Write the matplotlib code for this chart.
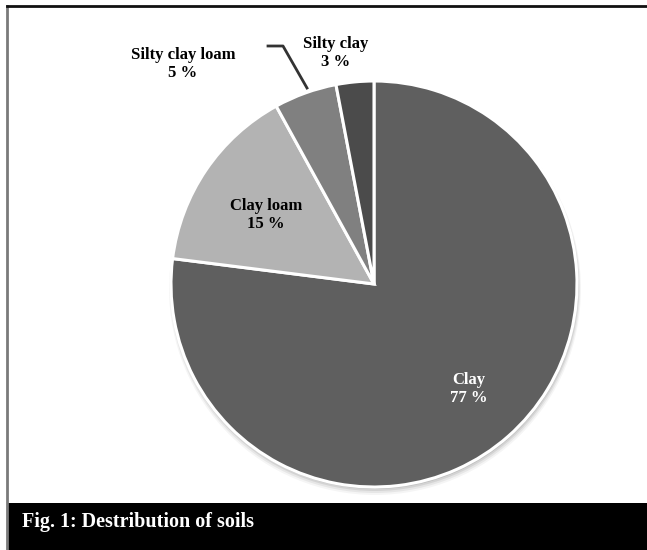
import matplotlib
matplotlib.use("Agg")
import matplotlib.pyplot as plt
from matplotlib.patches import Rectangle, Circle
from matplotlib.lines import Line2D

# Soil classes and their shares (%)
soils = ["Clay", "Clay loam", "Silty clay loam", "Silty clay"]
shares = [77, 15, 5, 3]
colors = ["#5f5f5f", "#b3b3b3", "#808080", "#4b4b4b"]
caption = "Fig. 1: Destribution of soils"

W, H = 647, 550
fig = plt.figure(figsize=(W / 100, H / 100), dpi=100)
fig.patch.set_facecolor("white")

ax = fig.add_axes([0, 0, 1, 1])
cx, cy, r = 374, 266, 203

# soft shadow under the pie
for k, a in enumerate([0.04, 0.06, 0.08, 0.10]):
    ax.add_patch(Circle((cx + 1, cy - 5 + k), r + 3 - k, facecolor="black",
                        alpha=a, edgecolor="none", zorder=0))

wedges, _ = ax.pie(shares, colors=colors, startangle=90, counterclock=False,
                   center=(cx, cy), radius=r,
                   wedgeprops=dict(edgecolor="white", linewidth=2.2))
for w in wedges:
    w.set_zorder(2)

ax.set_xlim(0, W)
ax.set_ylim(0, H)
ax.set_aspect("auto")
ax.axis("off")

font = dict(family="Liberation Serif", fontweight="bold", fontsize=12,
            ha="center", va="center")
labels = {
    "Clay": (469, 389, "white"),
    "Clay loam": (266, 215, "black"),
    "Silty clay loam": (183, 64, "black"),
    "Silty clay": (336, 53, "black"),
}
for name, val in zip(soils, shares):
    x, y, c = labels[name]
    ax.text(x, H - y, f"{name}\n{val} %", color=c, linespacing=1.15,
            zorder=5, **font)

# leader line for the smallest slice
ax.add_line(Line2D([307, 283, 268], [H - 88, H - 46, H - 46],
                   color="#333333", linewidth=2, zorder=4))

# frame and caption bar
fig.add_artist(Line2D([7 / W, 7 / W], [1 - 6 / H, 0], transform=fig.transFigure,
                      color="#7a7a7a", linewidth=2))
fig.add_artist(Line2D([7 / W, 1], [1 - 6 / H, 1 - 6 / H], transform=fig.transFigure,
                      color="#111111", linewidth=2))
fig.add_artist(Rectangle((7 / W, 0), 1 - 7 / W, 47 / H, transform=fig.transFigure,
                         facecolor="black", edgecolor="none"))
fig.text(22 / W, 1 - 522 / H, caption, color="white", family="Liberation Serif",
         fontweight="bold", fontsize=14.5, ha="left", va="center")

fig.savefig("out.png", dpi=100)
